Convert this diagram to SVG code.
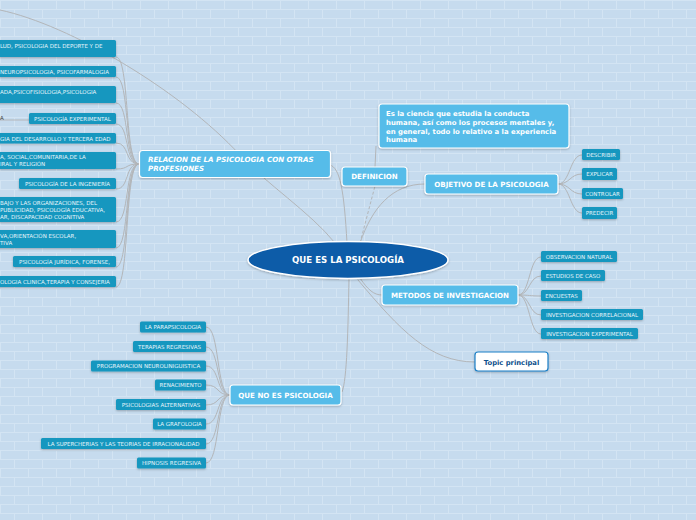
<svg xmlns="http://www.w3.org/2000/svg" width="696" height="520" viewBox="0 0 696 520">
<defs>
<pattern id="brick" width="28" height="18" patternUnits="userSpaceOnUse">
<rect width="28" height="18" fill="#c6dbee"/>
<path d="M0,0.5H28M0,9.5H28M0.5,0V9M14.5,9V18" stroke="#d3e4f3" stroke-width="1" fill="none"/>
</pattern>
<filter id="sh" x="-10%" y="-20%" width="120%" height="150%">
<feDropShadow dx="0" dy="1" stdDeviation="0.8" flood-color="#000" flood-opacity="0.25"/>
</filter>
</defs>
<style>
.main{fill:#56bce9;stroke:#ffffff;stroke-width:1.2;filter:url(#sh)}
.mt{font-family:"DejaVu Sans",Verdana,sans-serif;font-weight:bold;font-size:7.1px;fill:#ffffff}
.sub{fill:#1897bf;filter:url(#sh)}
.st{font-family:"DejaVu Sans",Verdana,sans-serif;font-size:5.5px;fill:#e6f5fb}
.con{fill:none;stroke:#b3b6b9;stroke-width:1}
</style>
<rect width="696" height="520" fill="url(#brick)"/>

<g id="connectors">
<path class="con" d="M0,10 C70,25 180,90 240,155 C265,183 310,212 335,243"/>
<path class="con" d="M330,165 C340,168 344,190 347,243"/>
<path class="con" d="M360,243 L375,186" stroke-dasharray="3,2"/>
<path class="con" d="M375,167 L376,146"/>
<path class="con" d="M360,243 C372,208 392,184 425,184"/>
<path class="con" d="M360,278 C368,290 374,295 382,295"/>
<path class="con" d="M358,280 C400,330 430,362 475,362"/>
<path class="con" d="M349,278 C348,330 347,380 342,392"/>
<path class="con" d="M139,164 C124,164 130,57 116,57"/>
<path class="con" d="M139,164 C124,164 130,77 116,77"/>
<path class="con" d="M139,164 C124,164 130,103 116,103"/>
<path class="con" d="M139,164 C124,164 130,124 116,124"/>
<path class="con" d="M139,164 C124,164 130,143 116,143"/>
<path class="con" d="M139,164 C124,164 130,169 116,169"/>
<path class="con" d="M139,164 C124,164 130,189 116,189"/>
<path class="con" d="M139,164 C124,164 130,222 116,222"/>
<path class="con" d="M139,164 C124,164 130,248 116,248"/>
<path class="con" d="M139,164 C124,164 130,267 116,267"/>
<path class="con" d="M139,164 C124,164 130,287 116,287"/>
<path class="con" d="M116,120 L0,120"/>
<path class="con" d="M558,184 C570,184 570,155 582,155"/>
<path class="con" d="M558,184 C570,184 570,174 582,174"/>
<path class="con" d="M558,184 C570,184 570,194 582,194"/>
<path class="con" d="M558,184 C570,184 570,213 582,213"/>
<path class="con" d="M518,295 C530,295 529,257 541,257"/>
<path class="con" d="M518,295 C530,295 529,276 541,276"/>
<path class="con" d="M518,295 C530,295 529,296 541,296"/>
<path class="con" d="M518,295 C530,295 529,315 541,315"/>
<path class="con" d="M518,295 C530,295 529,334 541,334"/>
<path class="con" d="M230,395 C216,395 220,327 206,327"/>
<path class="con" d="M230,395 C216,395 220,347 206,347"/>
<path class="con" d="M230,395 C216,395 220,366 206,366"/>
<path class="con" d="M230,395 C216,395 220,385 206,385"/>
<path class="con" d="M230,395 C216,395 220,405 206,405"/>
<path class="con" d="M230,395 C216,395 220,424 206,424"/>
<path class="con" d="M230,395 C216,395 220,444 206,444"/>
<path class="con" d="M230,395 C216,395 220,463 206,463"/>
</g>

<g id="center">
<ellipse cx="348" cy="260" rx="100" ry="18.5" fill="#0f5ca8" stroke="#ffffff" stroke-width="1.5" filter="url(#sh)"/>
<text x="348" y="263" text-anchor="middle" font-family="DejaVu Sans,Verdana,sans-serif" font-weight="bold" font-size="8.6" fill="#ffffff">QUE ES LA PSICOLOGÍA</text>
</g>

<g id="relacion">
<rect class="main" x="139.5" y="150.5" width="191" height="27" rx="3"/>
<text class="mt" x="148" y="162" font-style="italic">RELACION DE LA PSICOLOGIA CON OTRAS</text>
<text class="mt" x="148" y="171" font-style="italic">PROFESIONES</text>
</g>

<g id="definicion">
<rect class="main" x="342" y="167" width="65" height="19" rx="3"/>
<text class="mt" x="374.5" y="179" text-anchor="middle">DEFINICION</text>
</g>

<g id="definicion-texto">
<rect class="main" x="379" y="104" width="190" height="44" rx="3"/>
<g font-family="DejaVu Sans,Verdana,sans-serif" font-weight="bold" font-size="6.9" fill="#ffffff">
<text x="386" y="116">Es la ciencia que estudia la conducta</text>
<text x="386" y="125">humana, así como los procesos mentales y,</text>
<text x="386" y="133.5">en general, todo lo relativo a la experiencia</text>
<text x="386" y="142">humana</text>
</g>
</g>

<g id="objetivo">
<rect class="main" x="425" y="174" width="133" height="20" rx="3"/>
<text class="mt" x="491.5" y="186.5" text-anchor="middle">OBJETIVO DE LA PSICOLOGIA</text>
</g>
<g id="describir"><rect class="sub" x="582" y="149" width="38" height="11" rx="1.5"/><text class="st" x="601" y="156.5" text-anchor="middle">DESCRIBIR</text></g>
<g id="explicar"><rect class="sub" x="582" y="168" width="35" height="12" rx="1.5"/><text class="st" x="599.5" y="176" text-anchor="middle">EXPLICAR</text></g>
<g id="controlar"><rect class="sub" x="582" y="188" width="41" height="11" rx="1.5"/><text class="st" x="602.5" y="195.5" text-anchor="middle">CONTROLAR</text></g>
<g id="predecir"><rect class="sub" x="582" y="207" width="35" height="12" rx="1.5"/><text class="st" x="599.5" y="215" text-anchor="middle">PREDECIR</text></g>

<g id="metodos">
<rect class="main" x="382" y="285" width="136" height="20" rx="3"/>
<text class="mt" x="450" y="297.5" text-anchor="middle">METODOS DE INVESTIGACION</text>
</g>
<g id="observacion"><rect class="sub" x="541" y="251" width="76" height="11" rx="1.5"/><text class="st" x="579" y="258.5" text-anchor="middle">OBSERVACION NATURAL</text></g>
<g id="estudios"><rect class="sub" x="541" y="270" width="64" height="11" rx="1.5"/><text class="st" x="573" y="277.5" text-anchor="middle">ESTUDIOS DE CASO</text></g>
<g id="encuestas"><rect class="sub" x="541" y="290" width="41" height="11" rx="1.5"/><text class="st" x="561.5" y="297.5" text-anchor="middle">ENCUESTAS</text></g>
<g id="correlacional"><rect class="sub" x="541" y="309" width="102" height="11" rx="1.5"/><text class="st" x="592" y="316.5" text-anchor="middle">INVESTIGACION CORRELACIONAL</text></g>
<g id="experimental"><rect class="sub" x="541" y="328" width="97" height="11" rx="1.5"/><text class="st" x="589.5" y="335.5" text-anchor="middle">INVESTIGACION EXPERIMENTAL</text></g>

<g id="topic">
<rect x="475" y="352" width="73" height="19" rx="3" fill="#ffffff" stroke="#1b7fc6" stroke-width="1.2" filter="url(#sh)"/>
<text x="511.5" y="364.5" text-anchor="middle" font-family="DejaVu Sans,Verdana,sans-serif" font-weight="bold" font-size="6.8" fill="#0d4f8b">Topic principal</text>
</g>

<g id="quenoes">
<rect class="main" x="230" y="385" width="111" height="20" rx="3"/>
<text class="mt" x="285.5" y="397.5" text-anchor="middle">QUE NO ES PSICOLOGIA</text>
</g>
<g id="parapsicologia"><rect class="sub" x="140" y="321.5" width="66" height="11" rx="1.5"/><text class="st" x="173" y="329" text-anchor="middle">LA PARAPSICOLOGIA</text></g>
<g id="terapias"><rect class="sub" x="133" y="341" width="73" height="11" rx="1.5"/><text class="st" x="169.5" y="348.5" text-anchor="middle">TERAPIAS REGRESIVAS</text></g>
<g id="pnl"><rect class="sub" x="91" y="360.5" width="115" height="11" rx="1.5"/><text class="st" x="148.5" y="368" text-anchor="middle">PROGRAMACION NEUROLINIGUISTICA</text></g>
<g id="renacimiento"><rect class="sub" x="155" y="379.5" width="51" height="11" rx="1.5"/><text class="st" x="180.5" y="387" text-anchor="middle">RENACIMIENTO</text></g>
<g id="alternativas"><rect class="sub" x="116" y="399" width="90" height="11" rx="1.5"/><text class="st" x="161" y="406.5" text-anchor="middle">PSICOLOGIAS ALTERNATIVAS</text></g>
<g id="grafologia"><rect class="sub" x="153" y="418.5" width="53" height="11" rx="1.5"/><text class="st" x="179.5" y="426" text-anchor="middle">LA GRAFOLOGIA</text></g>
<g id="supercherias"><rect class="sub" x="41" y="438" width="165" height="11" rx="1.5"/><text class="st" x="123.5" y="445.5" text-anchor="middle">LA SUPERCHERIAS Y LAS TEORIAS DE IRRACIONALIDAD</text></g>
<g id="hipnosis"><rect class="sub" x="137" y="457.5" width="69" height="11" rx="1.5"/><text class="st" x="171.5" y="465" text-anchor="middle">HIPNOSIS REGRESIVA</text></g>

<g id="rel-salud"><rect class="sub" x="-20" y="40" width="136" height="17" rx="1.5"/><text class="st" x="0" y="48">LUD, PSICOLOGIA DEL DEPORTE Y DE</text></g>
<g id="rel-neuro"><rect class="sub" x="-20" y="66" width="136" height="11" rx="1.5"/><text class="st" x="0" y="74">NEUROPSICOLOGIA, PSICOFARMALOGIA</text></g>
<g id="rel-fisio"><rect class="sub" x="-20" y="86" width="136" height="17" rx="1.5"/><text class="st" x="0" y="94">ADA,PSICOFISIOLOGIA,PSICOLOGIA</text></g>
<g id="rel-a"><text x="0" y="120" font-family="DejaVu Sans,Verdana,sans-serif" font-size="5.5" fill="#444">A</text></g>
<g id="rel-experimental"><rect class="sub" x="29" y="113" width="87" height="11" rx="1.5"/><text class="st" x="72.5" y="120.5" text-anchor="middle">PSICOLOGÍA EXPERIMENTAL</text></g>
<g id="rel-desarrollo"><rect class="sub" x="-20" y="133" width="136" height="10.5" rx="1.5"/><text class="st" x="0" y="140.5">GIA DEL DESARROLLO Y TERCERA EDAD</text></g>
<g id="rel-social"><rect class="sub" x="-20" y="152" width="136" height="17" rx="1.5"/><text class="st" x="0" y="159">A, SOCIAL,COMUNITARIA,DE LA</text><text class="st" x="0" y="166">IRAL Y RELIGIÓN</text></g>
<g id="rel-ingenieria"><rect class="sub" x="19" y="178" width="97" height="11" rx="1.5"/><text class="st" x="67.5" y="185.5" text-anchor="middle">PSICOLOGÍA DE LA INGENIERÍA</text></g>
<g id="rel-trabajo"><rect class="sub" x="-20" y="197" width="136" height="25" rx="1.5"/><text class="st" x="0" y="204.5">BAJO Y LAS ORGANIZACIONES, DEL</text><text class="st" x="0" y="211.5">PUBLICIDAD, PSICOLOGÍA EDUCATIVA,</text><text class="st" x="0" y="218.5">AR, DISCAPACIDAD COGNITIVA</text></g>
<g id="rel-escolar"><rect class="sub" x="-20" y="230" width="136" height="18" rx="1.5"/><text class="st" x="0" y="237.5">VA,ORIENTACIÓN ESCOLAR,</text><text class="st" x="0" y="244.5">TIVA</text></g>
<g id="rel-juridica"><rect class="sub" x="13" y="256" width="103" height="11" rx="1.5"/><text class="st" x="64.5" y="263.5" text-anchor="middle">PSICOLOGÍA JURÍDICA, FORENSE,</text></g>
<g id="rel-clinica"><rect class="sub" x="-20" y="276" width="136" height="11" rx="1.5"/><text class="st" x="0" y="283.5">OLOGIA CLINICA,TERAPIA Y CONSEJERIA</text></g>
</svg>
